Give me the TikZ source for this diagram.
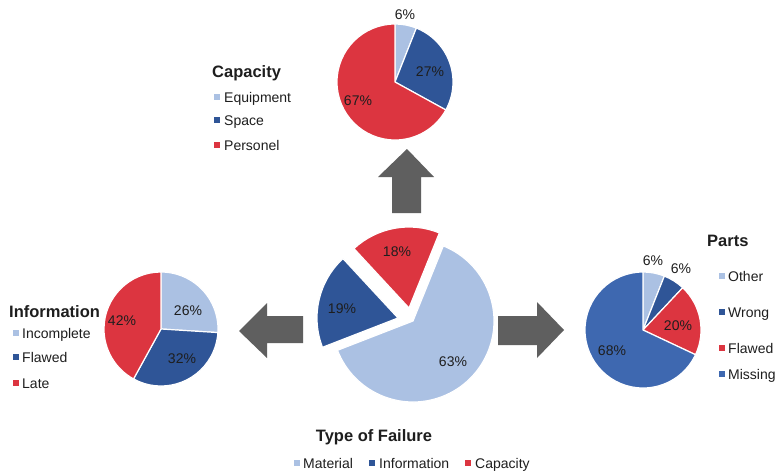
\documentclass[tikz,border=0pt]{standalone}
\usepackage{fontspec}
\setmainfont{Liberation Sans}
\definecolor{lblue}{HTML}{ABC1E3}
\definecolor{dblue}{HTML}{2F5597}
\definecolor{mblue}{HTML}{3E68B0}
\definecolor{cred}{HTML}{DC3540}
\definecolor{agray}{HTML}{5F5F5F}
\definecolor{txt}{HTML}{1E1E1E}
\newcommand\pieslice[5]{\fill[#5,draw=white,line width=1.2pt,line join=round] (#1) -- ++(#3:#2) arc[start angle=#3,end angle=#4,radius=#2] -- cycle;}
\tikzset{
  pct/.style={inner sep=0pt,text height=10pt,text depth=0pt,text=txt,font=\fontsize{14}{14}\selectfont},
  legtext/.style={inner sep=0pt,anchor=west,text height=10pt,text depth=0pt,text=txt,font=\fontsize{14}{14}\selectfont},
  legtitle/.style={inner sep=0pt,anchor=west,text height=12pt,text depth=0pt,text=txt,font=\fontsize{16.5}{17}\selectfont\bfseries},
  legmark/.style={minimum size=5.5pt,inner sep=0pt,fill=#1},
  blockarrow/.style={fill=agray}
}
\begin{document}
\begin{tikzpicture}[x=1pt,y=1pt]
\useasboundingbox[fill=white] (0,0) rectangle (776,475);
% ---------- central pie ----------
\coordinate (cM) at (413,154);
\coordinate (cC) at (409,167);
\coordinate (cI) at (398,157);
\pieslice{cM}{81}{201.2}{428}{lblue}
\pieslice{cC}{81}{68}{132.8}{cred}
\pieslice{cI}{81}{132.8}{201.2}{dblue}
\node[pct] (p18) at (397,224) {18\%};
\node[pct] (p19) at (342,167) {19\%};
\node[pct] (p63) at (453,114) {63\%};
\node[legtitle,anchor=center] (tTF) at (374,40) {Type of Failure};
\node[legmark=lblue] (mM) at (297,12) {};
\node[legtext] (lM) at (303,12) {Material};
\node[legmark=dblue] (mI) at (372,12) {};
\node[legtext] (lI) at (379,12) {Information};
\node[legmark=cred] (mC) at (468,12) {};
\node[legtext] (lC) at (475,12) {Capacity};
% ---------- top pie ----------
\coordinate (cT) at (395,393);
\pieslice{cT}{58}{68.4}{90}{lblue}
\pieslice{cT}{58}{-28.8}{68.4}{dblue}
\pieslice{cT}{58}{90}{331.2}{cred}
\node[pct] (t6) at (405,460) {6\%};
\node[pct] (t27) at (430,403) {27\%};
\node[pct] (t67) at (358,375) {67\%};
\node[legtitle] (tCap) at (212,403) {Capacity};
\node[legmark=lblue] (mEq) at (217,378) {};
\node[legtext] (lEq) at (224,378) {Equipment};
\node[legmark=dblue] (mSp) at (217,355) {};
\node[legtext] (lSp) at (224,355) {Space};
\node[legmark=cred] (mPe) at (217,330) {};
\node[legtext] (lPe) at (224,330) {Personel};
% ---------- left pie ----------
\coordinate (cL) at (161,146);
\pieslice{cL}{57}{-3.6}{90}{lblue}
\pieslice{cL}{57}{-118.8}{-3.6}{dblue}
\pieslice{cL}{57}{90}{241.2}{cred}
\node[pct] (l26) at (188,165) {26\%};
\node[pct] (l32) at (182,117) {32\%};
\node[pct] (l42) at (122,155) {42\%};
\node[legtitle] (tInf) at (9,164) {Information};
\node[legmark=lblue] (mInc) at (16,142) {};
\node[legtext] (lInc) at (22,142) {Incomplete};
\node[legmark=dblue] (mFl) at (16,118) {};
\node[legtext] (lFl) at (22,118) {Flawed};
\node[legmark=cred] (mLa) at (16,92) {};
\node[legtext] (lLa) at (22,92) {Late};
% ---------- right pie ----------
\coordinate (cR) at (643,145);
\pieslice{cR}{58}{68.4}{90}{lblue}
\pieslice{cR}{58}{46.8}{68.4}{dblue}
\pieslice{cR}{58}{-25.2}{46.8}{cred}
\pieslice{cR}{58}{90}{334.8}{mblue}
\node[pct] (r6a) at (653,215) {6\%};
\node[pct] (r6b) at (681,207) {6\%};
\node[pct] (r20) at (678,150) {20\%};
\node[pct] (r68) at (612,125) {68\%};
\node[legtitle] (tPa) at (707,235) {Parts};
\node[legmark=lblue] (mOt) at (722,199) {};
\node[legtext] (lOt) at (728,199) {Other};
\node[legmark=dblue] (mWr) at (722,163) {};
\node[legtext] (lWr) at (728,163) {Wrong};
\node[legmark=cred] (mFa) at (722,127) {};
\node[legtext] (lFa) at (728,127) {Flawed};
\node[legmark=mblue] (mMi) at (722,101) {};
\node[legtext] (lMi) at (728,101) {Missing};
% ---------- block arrows ----------
\fill[blockarrow] (407,326) -- (434,298) -- (421,298) -- (421,262) -- (392,262) -- (392,298) -- (378,298) -- cycle;
\fill[blockarrow] (239,144) -- (267,172) -- (267,159) -- (303,159) -- (303,132) -- (267,132) -- (267,117) -- cycle;
\fill[blockarrow] (564,145) -- (537,173) -- (537,159) -- (498,159) -- (498,130) -- (537,130) -- (537,117) -- cycle;
\end{tikzpicture}
\end{document}
